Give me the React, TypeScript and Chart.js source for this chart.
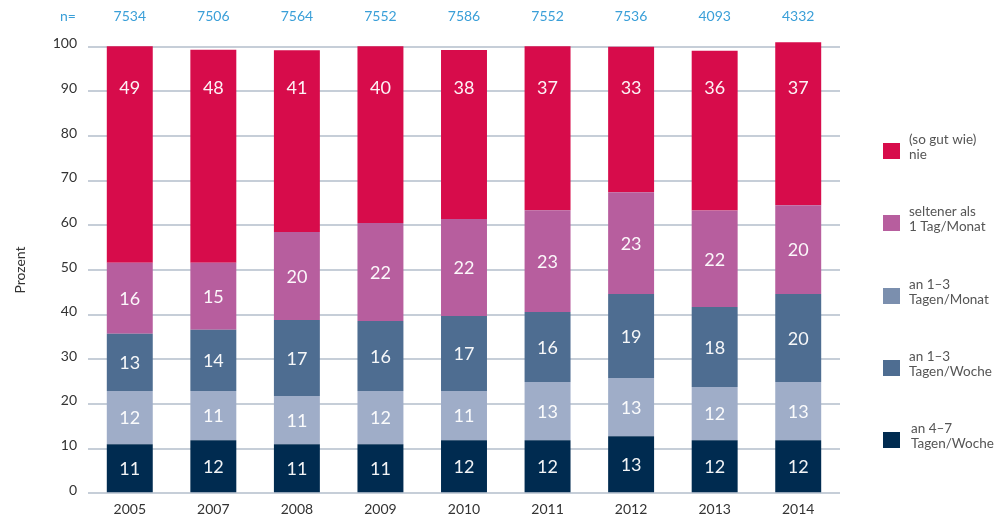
import React, { useEffect, useRef } from "react";
import { Chart, registerables } from "chart.js";

Chart.register(...registerables);

// ---- data ----
const years = ["2005", "2007", "2008", "2009", "2010", "2011", "2012", "2013", "2014"];
const sampleSizes = ["7534", "7506", "7564", "7552", "7586", "7552", "7536", "4093", "4332"];

// stacked bottom -> top (percent)
const days4to7PerWeek = [11.0, 11.9, 11.0, 11.0, 11.9, 11.9, 12.8, 11.9, 11.9];
const days1to3PerMonth = [11.9, 11.0, 10.8, 11.9, 11.0, 13.0, 13.0, 11.9, 13.0];
const days1to3PerWeek = [12.8, 13.7, 17.0, 15.7, 16.8, 15.7, 18.8, 17.9, 19.7];
const lessThanMonthly = [15.9, 15.0, 19.7, 21.9, 21.7, 22.8, 22.8, 21.6, 19.9];
const neverValues = [48.5, 47.7, 40.7, 39.6, 37.85, 36.7, 32.6, 35.8, 36.5];

const yTickValues = [0, 10, 20, 30, 40, 50, 60, 70, 80, 90, 100];

const labelNever = ["(so gut wie)", "nie"];
const labelRare = ["seltener als", "1 Tag/Monat"];
const labelMonth = ["an 1–3", "Tagen/Monat"];
const labelWeek = ["an 1–3", "Tagen/Woche"];
const labelDaily = ["an 4–7", "Tagen/Woche"];

const FONT = "Lato, 'Open Sans', sans-serif";

const seriesDefs = [
  { name: labelDaily, data: days4to7PerWeek, color: "#002b50", legendColor: "#002b50" },
  { name: labelMonth, data: days1to3PerMonth, color: "#9fadc8", legendColor: "#7b8fae" },
  { name: labelWeek, data: days1to3PerWeek, color: "#4e6d91", legendColor: "#4e6d91" },
  { name: labelRare, data: lessThanMonthly, color: "#b75e9e", legendColor: "#b75e9e" },
  { name: labelNever, data: neverValues, color: "#d70c4b", legendColor: "#d70c4b" },
];

// legend order from top to bottom (indices into seriesDefs)
const legendOrder = [4, 3, 1, 2, 0];

const valueLabelsPlugin = {
  id: "valueLabels",
  afterDatasetsDraw(chart: any) {
    const ctx = chart.ctx;
    const yScale = chart.scales.y;
    ctx.save();
    ctx.font = `18px ${FONT}`;
    ctx.fillStyle = "rgba(255,255,255,0.95)";
    ctx.textAlign = "center";
    ctx.textBaseline = "middle";
    const n = chart.data.datasets.length;
    chart.data.datasets.forEach((ds: any, i: number) => {
      const meta = chart.getDatasetMeta(i);
      meta.data.forEach((bar: any, j: number) => {
        const p = bar.getProps(["x", "y", "base"], true);
        const y = i === n - 1 ? yScale.getPixelForValue(91) : (p.y + p.base) / 2;
        ctx.fillText(String(Math.round(ds.data[j])), p.x, y + 1);
      });
    });
    ctx.restore();
  },
};

const sampleSizePlugin = {
  id: "sampleSizes",
  afterDraw(chart: any) {
    const ctx = chart.ctx;
    const xScale = chart.scales.x;
    ctx.save();
    ctx.font = `14px ${FONT}`;
    ctx.fillStyle = "#3a9fd8";
    ctx.textAlign = "center";
    ctx.textBaseline = "middle";
    ctx.fillText("n=", 68, 16);
    sampleSizes.forEach((s, i) => {
      ctx.fillText(s, xScale.getPixelForValue(i), 16);
    });
    ctx.restore();
  },
};

const sideLegendPlugin = {
  id: "sideLegend",
  afterDraw(chart: any) {
    const ctx = chart.ctx;
    ctx.save();
    const tops = [143, 215, 288, 360, 432];
    legendOrder.forEach((idx, k) => {
      const s = seriesDefs[idx];
      const top = tops[k];
      ctx.fillStyle = s.legendColor;
      ctx.fillRect(883, top, 17, 16);
      ctx.font = `13.5px ${FONT}`;
      ctx.fillStyle = "#555555";
      ctx.textAlign = "left";
      ctx.textBaseline = "middle";
      const x = k === 4 ? 911 : 909;
      s.name.forEach((line, li) => {
        ctx.fillText(line, x, top - 3 + li * 14.5);
      });
    });
    ctx.restore();
  },
};

export default function App() {
  const canvasRef = useRef<HTMLCanvasElement | null>(null);

  useEffect(() => {
    if (!canvasRef.current) return;
    const chart = new Chart(canvasRef.current, {
      type: "bar",
      data: {
        labels: years,
        datasets: seriesDefs.map((s) => ({
          label: s.name.join(" "),
          data: s.data,
          backgroundColor: s.color,
          borderWidth: 0,
          barPercentage: 0.55,
          categoryPercentage: 1,
          clip: false as any,
        })),
      },
      options: {
        responsive: false,
        animation: false,
        devicePixelRatio: 1,
        layout: { padding: { left: 0, right: 165, top: 46.7, bottom: 0 } },
        plugins: {
          legend: { display: false },
          tooltip: { enabled: false },
        },
        scales: {
          x: {
            stacked: true,
            grid: { display: false, drawTicks: false },
            border: { display: false },
            ticks: {
              color: "#333333",
              font: { family: FONT, size: 14 },
              padding: 8,
            },
            afterFit(scale: any) {
              scale.height = 516 - 493.3;
            },
          },
          y: {
            stacked: true,
            min: 0,
            max: 100,
            afterBuildTicks(scale: any) {
              scale.ticks = yTickValues.map((v) => ({ value: v }));
            },
            grid: { color: "#c6ced8", lineWidth: 2, drawTicks: false },
            border: { display: false },
            ticks: {
              color: "#333333",
              font: { family: FONT, size: 14 },
              padding: 11,
              labelOffset: -3,
            },
            title: {
              display: true,
              text: "Prozent",
              color: "#333333",
              font: { family: FONT, size: 14 },
              padding: { top: 12, bottom: 0 },
            },
            afterFit(scale: any) {
              scale.width = 88;
            },
          },
        },
      },
      plugins: [valueLabelsPlugin, sampleSizePlugin, sideLegendPlugin],
    });
    return () => chart.destroy();
  }, []);

  return (
    <div style={{ position: "absolute", left: 0, top: 0, width: 1005, height: 516, background: "#fff" }}>
      <canvas ref={canvasRef} width={1005} height={516} />
    </div>
  );
}
